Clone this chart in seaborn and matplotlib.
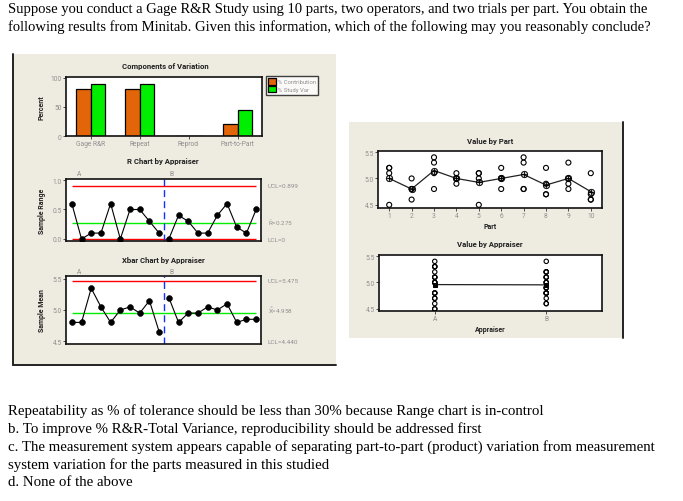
import numpy as np
import pandas as pd
import matplotlib
matplotlib.use("Agg")
import matplotlib.pyplot as plt
import seaborn as sns
from matplotlib.patches import Rectangle
from matplotlib.lines import Line2D

# ---------------- data ----------------
question_lines = [
    "Suppose you conduct a Gage R&R Study using 10 parts, two operators, and two trials per part. You obtain the",
    "following results from Minitab. Given this information, which of the following may you reasonably conclude?",
]
answer_lines = [
    "Repeatability as % of tolerance should be less than 30% because Range chart is in-control",
    "b. To improve % R&R-Total Variance, reproducibility should be addressed first",
    "c. The measurement system appears capable of separating part-to-part (product) variation from measurement",
    "system variation for the parts measured in this studied",
    "d. None of the above",
]

components = ["Gage R&R", "Repeat", "Reprod", "Part-to-Part"]
pct_contribution = [80.0, 80.0, 0.0, 20.0]
pct_study_var = [89.4, 89.4, 0.0, 44.7]
measure_labels = ["% Contribution", "% Study Var"]

appraisers = ["A", "B"]
subgroups = list(range(1, 21))
r_appraiser_a = [0.6, 0.0, 0.1, 0.1, 0.6, 0.0, 0.5, 0.5, 0.3, 0.1]
r_appraiser_b = [0.0, 0.4, 0.3, 0.1, 0.1, 0.4, 0.6, 0.2, 0.1, 0.5]
r_ucl, r_center, r_lcl = 0.899, 0.275, 0.0

xbar_appraiser_a = [4.80, 4.80, 5.35, 5.05, 4.80, 5.00, 5.05, 4.95, 5.15, 4.65]
xbar_appraiser_b = [5.20, 4.80, 4.95, 4.95, 5.05, 5.00, 5.10, 4.80, 4.85, 4.85]
xbar_ucl, xbar_center, xbar_lcl = 5.475, 4.958, 4.440

parts = list(range(1, 11))
meas_a_trial1 = [4.5, 4.8, 5.3, 5.0, 4.5, 5.0, 4.8, 4.7, 5.0, 4.6]
meas_a_trial2 = [5.1, 4.8, 5.4, 5.1, 5.1, 5.0, 5.3, 5.2, 5.3, 4.7]
meas_b_trial1 = [5.2, 4.6, 4.8, 4.9, 5.0, 4.8, 4.8, 4.7, 4.8, 4.6]
meas_b_trial2 = [5.2, 5.0, 5.1, 5.0, 5.1, 5.2, 5.4, 4.9, 4.9, 5.1]

# ---------------- style ----------------
sns.set_style("white")
plt.rcParams["font.family"] = ["Roboto", "DejaVu Sans"]
plt.rcParams["mathtext.fontset"] = "dejavusans"

W, H = 683, 502
BEIGE = "#EEEBE1"
ORANGE = "#E3650A"
GREEN = "#00EE00"
GREY = "#8f8f8f"
TICK_FS = 4.8

fig = plt.figure(figsize=(W / 100, H / 100), dpi=100)
fig.patch.set_facecolor("white")


def add_ax(x0, y0, x1, y1):
    ax = fig.add_axes([x0 / W, 1 - y1 / H, (x1 - x0) / W, (y1 - y0) / H])
    ax.set_facecolor("white")
    for s in ax.spines.values():
        s.set_visible(True)
        s.set_color("#111111")
        s.set_linewidth(1.2)
    ax.tick_params(axis="both", which="both", length=2, width=0.6, pad=1,
                   labelsize=TICK_FS, labelcolor=GREY, color="#333333",
                   left=True, bottom=True, top=False, right=False)
    ax.set_xlabel("")
    ax.set_ylabel("")
    return ax


def ftext(x, y, s, **kw):
    kw.setdefault("va", "center")
    return fig.text(x / W, 1 - y / H, s, **kw)


def fline(x0, y0, x1, y1, **kw):
    fig.add_artist(Line2D([x0 / W, x1 / W], [1 - y0 / H, 1 - y1 / H],
                          transform=fig.transFigure, **kw))


# panel backgrounds
fig.add_artist(Rectangle((13 / W, 1 - 366 / H), (336 - 13) / W, (366 - 55) / H,
                         transform=fig.transFigure, fc=BEIGE, ec="none", zorder=-5))
fig.add_artist(Rectangle((349 / W, 1 - 339 / H), (623 - 349) / W, (339 - 123) / H,
                         transform=fig.transFigure, fc=BEIGE, ec="none", zorder=-5))
fline(13, 55, 13, 366, color="#222222", lw=1.4)
fline(13, 366, 336, 366, color="#222222", lw=1.4)
fline(623, 123, 623, 339, color="#222222", lw=1.4)

# question / answer text
for i, line in enumerate(question_lines):
    ftext(8, 10 + i * 17.5, line, family="Liberation Serif", fontsize=10.55, color="black")
for i, line in enumerate(answer_lines):
    ftext(8, 411 + i * 18, line, family="Liberation Serif", fontsize=10.7, color="black")

# ---------------- Components of Variation ----------------
ax1 = add_ax(66, 78, 262, 137)
df_comp = pd.DataFrame({
    "component": components * 2,
    "measure": [measure_labels[0]] * 4 + [measure_labels[1]] * 4,
    "value": pct_contribution + pct_study_var,
})
sns.barplot(data=df_comp, x="component", y="value", hue="measure",
            palette=[ORANGE, GREEN], saturation=1, edgecolor="black",
            linewidth=0.9, width=0.6, ax=ax1)
ax1.set_ylim(0, 101.5)
ax1.set_xlim(-0.5, 3.5)
ax1.set_yticks([0, 50, 100])
ax1.set_xlabel("")
ax1.set_ylabel("")
handles, labels = ax1.get_legend_handles_labels()
if ax1.get_legend() is not None:
    ax1.get_legend().remove()
leg = fig.legend(handles, labels, loc="upper left",
                 bbox_to_anchor=(266 / W, 1 - 77 / H), fontsize=4.2,
                 frameon=True, fancybox=False, edgecolor="#111111",
                 handlelength=1.3, handleheight=1.3, borderpad=0.4,
                 labelspacing=0.2, handletextpad=0.35, borderaxespad=0)
leg.get_frame().set_linewidth(1.0)
for t in leg.get_texts():
    t.set_color(GREY)
ftext(165, 67, "Components of Variation", fontsize=5.6, weight="bold",
      ha="center", color="#222222")
ftext(42, 108, "Percent", fontsize=5.0, weight="bold", rotation=90,
      ha="center", color="#222222")

# ---------------- R chart ----------------
ax2 = add_ax(66, 180, 261, 242)
df_r = pd.DataFrame({
    "subgroup": subgroups,
    "range": r_appraiser_a + r_appraiser_b,
    "appraiser": [appraisers[0]] * 10 + [appraisers[1]] * 10,
})
ax2.hlines([r_ucl, r_lcl], 1, 20, colors="red", lw=1.0, zorder=1)
ax2.hlines(r_center, 1, 20, colors=GREEN, lw=1.0, zorder=1)
ax2.axvline(10.5, color="#1030FF", ls=(0, (5, 3)), lw=1.0, zorder=1)
sns.lineplot(data=df_r, x="subgroup", y="range", hue="appraiser",
             palette={"A": "black", "B": "black"}, lw=0.8, marker="o",
             markersize=4.2, markeredgecolor="black", markeredgewidth=0.4,
             legend=False, ax=ax2, zorder=3)
ax2.set_xlim(0.4, 20.5)
ax2.set_ylim(-0.034, 1.017)
ax2.set_yticks([0.0, 0.5, 1.0])
ax2.set_yticklabels(["0.0", "0.5", "1.0"])
ax2.set_xticks([])
ax2.set_xlabel("")
ax2.set_ylabel("")
ftext(163, 162, "R Chart by Appraiser", fontsize=5.6, weight="bold",
      ha="center", color="#222222")
ftext(79, 175, "A", fontsize=TICK_FS, color=GREY, ha="center")
ftext(172, 175, "B", fontsize=TICK_FS, color=GREY, ha="center")
ftext(42, 211, "Sample Range", fontsize=5.0, weight="bold", rotation=90,
      ha="center", color="#222222")
ftext(268, 186, f"UCL={r_ucl:.3f}", fontsize=4.6, color=GREY)
ftext(268, 223, r"$\mathregular{\bar{R}}$" + f"={r_center:.3f}", fontsize=4.6, color=GREY)
ftext(268, 240, f"LCL={r_lcl:g}", fontsize=4.6, color=GREY)

# ---------------- Xbar chart ----------------
ax3 = add_ax(66, 277, 261, 345)
df_x = pd.DataFrame({
    "subgroup": subgroups,
    "mean": xbar_appraiser_a + xbar_appraiser_b,
    "appraiser": [appraisers[0]] * 10 + [appraisers[1]] * 10,
})
ax3.hlines(xbar_ucl, 1, 20, colors="red", lw=1.0, zorder=1)
ax3.hlines(xbar_lcl, 1, 20, colors="#FF5A5A", lw=1.5, zorder=1)
ax3.hlines(xbar_center, 1, 20, colors=GREEN, lw=1.0, zorder=1)
ax3.axvline(10.5, color="#1030FF", ls=(0, (5, 3)), lw=1.0, zorder=1)
sns.lineplot(data=df_x, x="subgroup", y="mean", hue="appraiser",
             palette={"A": "black", "B": "black"}, lw=0.8, marker="o",
             markersize=4.2, markeredgecolor="black", markeredgewidth=0.4,
             legend=False, ax=ax3, zorder=3)
ax3.set_xlim(0.4, 20.5)
ax3.set_ylim(4.452, 5.548)
ax3.set_yticks([4.5, 5.0, 5.5])
ax3.set_yticklabels(["4.5", "5.0", "5.5"])
ax3.set_xticks([])
ax3.set_xlabel("")
ax3.set_ylabel("")
ftext(163, 261, "Xbar Chart by Appraiser", fontsize=5.6, weight="bold",
      ha="center", color="#222222")
ftext(79, 273, "A", fontsize=TICK_FS, color=GREY, ha="center")
ftext(172, 273, "B", fontsize=TICK_FS, color=GREY, ha="center")
ftext(42, 311, "Sample Mean", fontsize=5.0, weight="bold", rotation=90,
      ha="center", color="#222222")
ftext(268, 282, f"UCL={xbar_ucl:.3f}", fontsize=4.6, color=GREY)
ftext(268, 311, r"$\mathregular{\bar{\bar{X}}}$" + f"={xbar_center:.3f}", fontsize=4.6, color=GREY)
ftext(268, 343, f"LCL={xbar_lcl:.3f}", fontsize=4.6, color=GREY)

# ---------------- measurements ----------------
df_meas = pd.DataFrame({
    "part": parts * 4,
    "appraiser": [appraisers[0]] * 20 + [appraisers[1]] * 20,
    "value": meas_a_trial1 + meas_a_trial2 + meas_b_trial1 + meas_b_trial2,
})

# Value by Part
ax4 = add_ax(378, 152, 602, 209)
sns.scatterplot(data=df_meas, x="part", y="value", marker="o", s=13,
                fc="none", ec="black", linewidth=0.8, legend=False, ax=ax4,
                zorder=3)
sns.lineplot(data=df_meas, x="part", y="value", estimator="mean",
             errorbar=None, color="#222222", lw=0.9, marker=r"$\oplus$",
             markersize=5, mfc="black", mec="black", markeredgewidth=0.2,
             ax=ax4, zorder=4)
ax4.set_xlim(0.5, 10.5)
ax4.set_ylim(4.44, 5.52)
ax4.set_xticks(parts)
ax4.set_yticks([4.5, 5.0, 5.5])
ax4.set_yticklabels(["4.5", "5.0", "5.5"])
ax4.set_xlabel("")
ax4.set_ylabel("")
ftext(490, 142, "Value by Part", fontsize=5.6, weight="bold", ha="center",
      color="#222222")
ftext(490, 227, "Part", fontsize=5.0, weight="bold", ha="center",
      color="#222222")

# Value by Appraiser
ax5 = add_ax(379, 256, 602, 312)
sns.scatterplot(data=df_meas, x="appraiser", y="value", marker="o", s=10,
                fc="none", ec="black", linewidth=0.8, legend=False, ax=ax5,
                zorder=3)
sns.lineplot(data=df_meas, x="appraiser", y="value", estimator="mean",
             errorbar=None, color="#222222", lw=0.9, marker="s",
             markersize=3, mfc="black", mec="black", ax=ax5, zorder=4)
ax5.set_xlim(-0.5, 1.5)
ax5.set_ylim(4.46, 5.52)
ax5.set_yticks([4.5, 5.0, 5.5])
ax5.set_yticklabels(["4.5", "5.0", "5.5"])
ax5.set_xlabel("")
ax5.set_ylabel("")
ftext(490, 245, "Value by Appraiser", fontsize=5.6, weight="bold", ha="center",
      color="#222222")
ftext(490, 330, "Appraiser", fontsize=5.0, weight="bold", ha="center",
      color="#222222")

fig.savefig("out.png", dpi=100, facecolor="white")
